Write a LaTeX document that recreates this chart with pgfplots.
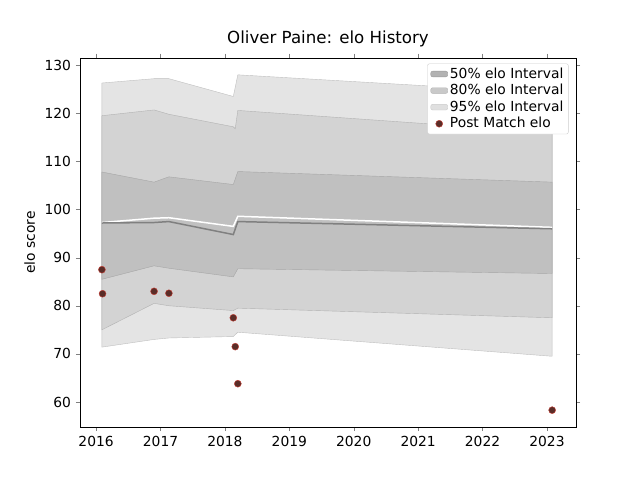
\documentclass[border=0pt]{standalone}
\usepackage{pgfplots}
\pgfplotsset{compat=1.18}
\usepackage{fontspec}
\setmainfont{DejaVu Sans}
\definecolor{c95}{HTML}{E4E4E4}
\definecolor{c80}{HTML}{D3D3D3}
\definecolor{c50}{HTML}{C0C0C0}
\begin{document}
\fontsize{13.9}{16}\selectfont
\begin{tikzpicture}[x=1bp,y=1bp]
\path[use as bounding box] (-80,-53) rectangle (560,427);
\begin{axis}[at={(0,0)},anchor=south west,scale only axis,width=496bp,height=369bp,
  xmin=2015.75,xmax=2023.45,ymin=54.8,ymax=131.5,
  xtick={2016,...,2023},ytick={60,70,...,130},
  /pgf/number format/assume math mode=true,
  /pgf/number format/1000 sep={},
  tick label style={font=\fontsize{13.9}{16}\selectfont},
  ylabel={elo score},
  title={\fontsize{16.7}{19}\selectfont Oliver Paine: elo History},
  legend style={at={(0.985,0.985)},anchor=north east,draw=black!20,rounded corners=2pt,font=\fontsize{13.9}{16}\selectfont,cells={anchor=west}},
  legend cell align=left,
  tick align=outside]
\addplot[fill=c95,draw=black!25,area legend,forget plot] coordinates {(2016.09,126.3)(2016.9,127.2)(2017.13,127.2)(2018.13,123.5)(2018.2,128)(2023.08,124.2)(2023.08,69.5)(2018.2,74.5)(2018.13,73.6)(2017.13,73.3)(2016.9,73.0)(2016.09,71.4)} -- cycle;
\addplot[fill=c80,draw=black!30,area legend,forget plot] coordinates {(2016.09,119.5)(2016.9,120.7)(2017.13,119.8)(2018.13,117.2)(2018.16,116.8)(2018.2,120.6)(2023.08,116)(2023.08,77.5)(2018.2,79.5)(2018.13,79.0)(2017.13,80.0)(2016.9,80.5)(2016.09,75)} -- cycle;
\addplot[fill=c50,draw=black!35,area legend,forget plot] coordinates {(2016.09,107.8)(2016.9,105.7)(2017.13,106.8)(2018.13,105.2)(2018.2,107.9)(2023.08,105.7)(2023.08,86.7)(2018.2,87.7)(2018.13,86.0)(2017.13,87.8)(2016.9,88.3)(2016.09,85.5)} -- cycle;
\addplot[white,line width=1.5pt,forget plot] coordinates {(2016.09,97.3)(2016.9,98.2)(2017.13,98.3)(2018.13,96.5)(2018.2,98.6)(2023.08,96.3)};
\addplot[black!50,line width=1.5pt,forget plot] coordinates {(2016.09,97.2)(2016.9,97.3)(2017.13,97.5)(2018.13,94.8)(2018.2,97.5)(2023.08,96.0)};
\addlegendimage{area legend,fill=black!30,draw=black!40}
\addlegendentry{50\% elo Interval}
\addlegendimage{area legend,fill=black!21,draw=black!30}
\addlegendentry{80\% elo Interval}
\addlegendimage{area legend,fill=black!12,draw=black!20}
\addlegendentry{95\% elo Interval}
\addplot[only marks,mark=*,mark size=3.5pt,mark options={fill={rgb,255:red,90;green,45;blue,40},draw={rgb,255:red,200;green,60;blue,50}}] coordinates {(2016.09,87.5)(2016.1,82.5)(2016.9,83)(2017.13,82.6)(2018.13,77.5)(2018.16,71.5)(2018.2,63.8)(2023.08,58.3)};
\addlegendentry{Post Match elo}
\end{axis}
\end{tikzpicture}
\end{document}
